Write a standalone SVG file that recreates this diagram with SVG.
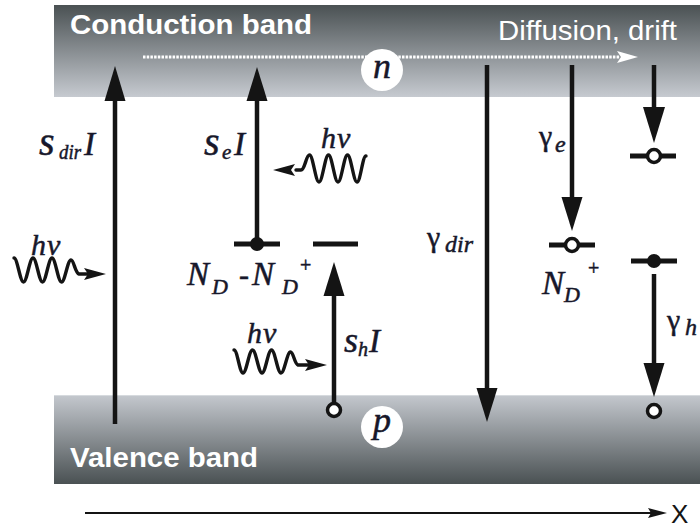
<svg xmlns="http://www.w3.org/2000/svg" width="700" height="529" viewBox="0 0 700 529">
<defs>
<linearGradient id="gCB" x1="0" y1="0" x2="0" y2="1">
<stop offset="0" stop-color="#4a5153"/><stop offset="1" stop-color="#c6cad0"/>
</linearGradient>
<linearGradient id="gVB" x1="0" y1="0" x2="0" y2="1">
<stop offset="0" stop-color="#c4c8ce"/><stop offset="1" stop-color="#4a5153"/>
</linearGradient>
<style>
.band{font-family:"Liberation Sans",Arial,sans-serif;fill:#fff;font-size:28px}
.lab{font-family:"Liberation Serif","Times New Roman",serif;fill:#17172a;stroke:#17172a;stroke-width:0.5}
.it{font-style:italic}
.ln{stroke:#141414;stroke-width:4.5;fill:none}
.lvl{stroke:#141414;stroke-width:5;fill:none}
.hd{fill:#141414}
.wave{stroke:#141414;stroke-width:3.4;fill:none;stroke-linecap:round}
.hole{fill:#fff;stroke:#141414;stroke-width:3.5}
</style>
</defs>
<rect width="700" height="529" fill="#fff"/>

<g id="conduction-band">
<rect x="54" y="5" width="646" height="92" fill="url(#gCB)"/>
<text class="band" x="70" y="34" font-weight="bold" textLength="242" lengthAdjust="spacingAndGlyphs">Conduction band</text>
<text class="band" x="498" y="40" textLength="179" lengthAdjust="spacingAndGlyphs">Diffusion, drift</text>
</g>

<g id="valence-band">
<rect x="54" y="395" width="646" height="89" fill="url(#gVB)"/>
<line x1="54" y1="395.5" x2="700" y2="395.5" stroke="#d6dade" stroke-width="1"/>
<text class="band" x="70" y="467" font-weight="bold" textLength="188" lengthAdjust="spacingAndGlyphs">Valence band</text>
</g>

<g id="connectors">
<line x1="143" y1="57" x2="620" y2="57" stroke="#fff" stroke-width="3" stroke-dasharray="2.5 1.2"/>
<polygon points="638,57 617,51 621,57 617,63" fill="#fff"/>
<line class="ln" x1="115" y1="424" x2="115" y2="98"/>
<polygon class="hd" points="115,66 104.5,101 125.5,101"/>
<line class="ln" x1="257" y1="244" x2="257" y2="98"/>
<polygon class="hd" points="257,67 246.5,101 267.5,101"/>
<line class="ln" x1="334" y1="404" x2="334" y2="293"/>
<polygon class="hd" points="334,262 323.5,296 344.5,296"/>
<line class="ln" x1="487" y1="65" x2="487" y2="390"/>
<polygon class="hd" points="487,422 476.5,388 497.5,388"/>
<line class="ln" x1="572" y1="65" x2="572" y2="200"/>
<polygon class="hd" points="572,231 561.5,197 582.5,197"/>
<line class="ln" x1="654" y1="65" x2="654" y2="110"/>
<polygon class="hd" points="654,143 643,107 665,107"/>
<line class="ln" x1="654" y1="274" x2="654" y2="365"/>
<polygon class="hd" points="654,397 643.5,363 664.5,363"/>
<path class="wave" d="M14,258 C17.5,258 20,282 23.5,282 C27,282 29.5,258 33,258 C36.5,258 39,282 42.5,282 C46,282 48.5,258 52,258 C55.5,258 58,282 61.5,282 C65,282 67.5,260 71,260 C74,260 75,273 79,274 L90,274"/>
<polygon class="hd" points="106,274 84,268 88,274 84,280"/>
<path class="wave" d="M296,170 L301,170 C305,170 306,155 309.5,155 C313,155 315.5,182 319,182 C322.5,182 325,155 328.5,155 C332,155 334.5,182 338,182 C341.5,182 344,155 347.5,155 C351,155 353.5,182 357,182 C360.5,182 362.5,156 366,156"/>
<polygon class="hd" points="273,170 295,164 291,170 295,176"/>
<path class="wave" d="M234,350 C237.5,350 239.5,373 243,373 C246.5,373 249,350 252.5,350 C256,350 258.5,373 262,373 C265.5,373 268,350 271.5,350 C275,350 277.5,373 281,373 C284.5,373 287,352 290.5,352 C293.5,352 294.5,364 298,365 L308,365"/>
<polygon class="hd" points="327,365 305,359 309,365 305,371"/>
<line x1="85" y1="513" x2="652" y2="513" stroke="#141414" stroke-width="2"/>
<polygon class="hd" points="667,513 648,508 651,513 648,518"/>
</g>

<g id="level-donor-neutral">
<line class="lvl" x1="234" y1="244" x2="280" y2="244"/>
<circle cx="257" cy="244" r="7" fill="#141414"/>
<line class="lvl" x1="313" y1="244" x2="358" y2="244"/>
<text class="lab it" font-size="33" x="187" y="285">N</text>
<text class="lab it" font-size="22" x="212" y="294">D</text>
<text class="lab" font-size="30" x="239" y="285">-</text>
<text class="lab it" font-size="33" x="252" y="285">N</text>
<text class="lab it" font-size="22" x="282" y="294">D</text>
<text class="lab" font-size="20" x="300" y="272">+</text>
</g>

<g id="level-donor-ionized">
<line class="lvl" x1="549" y1="245" x2="595" y2="245"/>
<circle class="hole" cx="572" cy="245" r="6.5"/>
<text class="lab it" font-size="33" x="542" y="294">N</text>
<text class="lab it" font-size="22" x="564" y="302">D</text>
<text class="lab" font-size="20" x="588" y="275">+</text>
</g>

<g id="level-right-upper">
<line class="lvl" x1="630" y1="156" x2="676" y2="156"/>
<circle class="hole" cx="654" cy="156" r="6.5"/>
</g>

<g id="level-right-lower">
<line class="lvl" x1="631" y1="261" x2="677" y2="261"/>
<circle cx="654" cy="261" r="7" fill="#141414"/>
</g>

<g id="holes-valence">
<circle class="hole" cx="334" cy="410" r="6.5"/>
<circle class="hole" cx="654" cy="411" r="6.5"/>
</g>

<g id="carrier-n">
<circle cx="382" cy="70" r="21" fill="#fff"/>
<text class="lab it" font-size="36" x="382" y="78" text-anchor="middle">n</text>
</g>

<g id="carrier-p">
<circle cx="382" cy="427" r="21" fill="#fff"/>
<text class="lab it" font-size="36" x="382" y="432" text-anchor="middle">p</text>
</g>

<g id="labels">
<text class="lab it" font-size="40" x="39" y="155">s</text>
<text class="lab it" font-size="21" x="59" y="159" textLength="22" lengthAdjust="spacingAndGlyphs">dir</text>
<text class="lab it" font-size="33" x="84" y="155">I</text>

<text class="lab it" font-size="40" x="204" y="155">s</text>
<text class="lab it" font-size="21" x="222" y="159">e</text>
<text class="lab it" font-size="33" x="234" y="155">I</text>

<text class="lab it" font-size="36" x="344" y="352">s</text>
<text class="lab it" font-size="20" x="358" y="356">h</text>
<text class="lab it" font-size="33" x="369" y="352">I</text>

<text class="lab" font-size="30" x="427" y="247">γ</text>
<text class="lab it" font-size="24" x="445" y="252">dir</text>

<text class="lab" font-size="30" x="539" y="146">γ</text>
<text class="lab it" font-size="24" x="555" y="152">e</text>

<text class="lab" font-size="30" x="667" y="330">γ</text>
<text class="lab it" font-size="24" x="685" y="335">h</text>

<text class="lab it" font-size="30" x="31" y="255" letter-spacing="1">hν</text>
<text class="lab it" font-size="30" x="321" y="148" letter-spacing="1">hν</text>
<text class="lab it" font-size="30" x="247" y="343" letter-spacing="1">hν</text>

<text font-family="Liberation Sans,Arial,sans-serif" font-size="26" fill="#141414" x="671" y="523">X</text>
</g>
</svg>
